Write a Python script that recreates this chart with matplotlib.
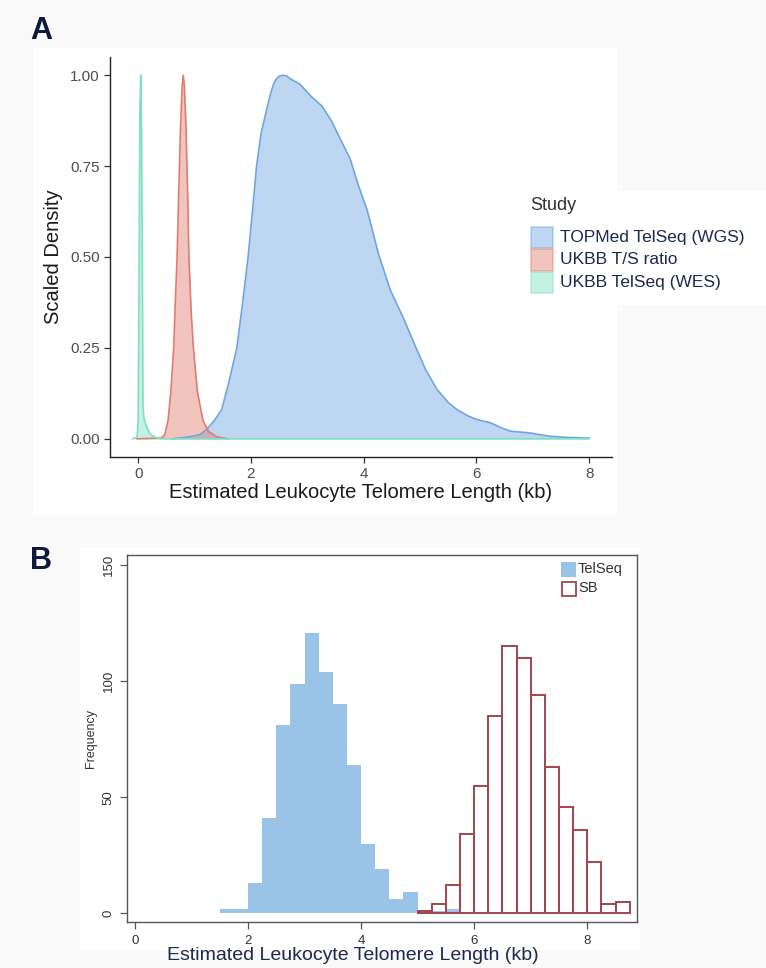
import matplotlib.pyplot as plt
from matplotlib.patches import Rectangle

plt.rcParams['font.family'] = ['Liberation Sans', 'DejaVu Sans']

# ---- panel A: scaled densities ----
topmed_x = [0.6, 0.9, 1.1, 1.21, 1.35, 1.48, 1.6, 1.75, 1.85, 1.95, 2.03, 2.10, 2.18, 2.28,
            2.35, 2.4, 2.45, 2.5, 2.57, 2.63, 2.7, 2.87, 3.08, 3.26, 3.43, 3.6, 3.76, 3.9, 4.06,
            4.26, 4.47, 4.71, 4.94, 5.1, 5.30, 5.5, 5.65, 5.85, 6.01, 6.25, 6.45, 6.6, 6.96,
            7.1, 7.31, 7.6, 8.0]
topmed_y = [0.0, 0.005, 0.012, 0.025, 0.05, 0.08, 0.15, 0.25, 0.37, 0.5, 0.63, 0.75, 0.84, 0.906,
            0.95, 0.975, 0.99, 0.997, 1.0, 0.998, 0.99, 0.975, 0.94, 0.915, 0.874, 0.82, 0.77, 0.70,
            0.63, 0.51, 0.41, 0.33, 0.246, 0.19, 0.136, 0.10, 0.081, 0.063, 0.053, 0.044, 0.03,
            0.021, 0.016, 0.012, 0.007, 0.004, 0.002]

ts_x = [-0.02, 0.4, 0.47, 0.53, 0.58, 0.63, 0.66, 0.69, 0.72, 0.75, 0.78, 0.80, 0.82, 0.85,
        0.88, 0.90, 0.94, 0.98, 1.05, 1.15, 1.25, 1.4, 1.6]
ts_y = [0.0, 0.002, 0.01, 0.05, 0.13, 0.25, 0.38, 0.5, 0.68, 0.85, 0.97, 1.0, 0.97, 0.85,
        0.66, 0.5, 0.35, 0.25, 0.13, 0.05, 0.02, 0.005, 0.0]

wes_x = [-0.1, -0.02, 0.0, 0.015, 0.03, 0.045, 0.06, 0.075, 0.085, 0.1, 0.12, 0.16, 0.2, 0.3, 0.4, 8.0]
wes_y = [0.0, 0.005, 0.05, 0.4, 0.9, 1.0, 0.85, 0.45, 0.1, 0.06, 0.045, 0.03, 0.015, 0.004, 0.0, 0.0]

studies = ['TOPMed TelSeq (WGS)', 'UKBB T/S ratio', 'UKBB TelSeq (WES)']
study_colors = ['#6fa6e0', '#e07d70', '#7fe0bf']

# ---- panel B: histogram counts, bins of 0.25 kb ----
telseq_edges = [1.5, 1.75, 2.0, 2.25, 2.5, 2.75, 3.0, 3.25, 3.5, 3.75, 4.0, 4.25, 4.5, 4.75,
                5.0, 5.25, 5.5, 5.75]
telseq_counts = [2, 2, 13, 41, 81, 99, 121, 104, 90, 64, 30, 19, 6, 9, 1, 1, 2]

sb_edges = [5.0, 5.25, 5.5, 5.75, 6.0, 6.25, 6.5, 6.75, 7.0, 7.25, 7.5, 7.75, 8.0, 8.25, 8.5, 8.75]
sb_counts = [1, 4, 12, 34, 55, 85, 115, 110, 94, 63, 46, 36, 22, 4, 5]

hist_labels = ['TelSeq', 'SB']
telseq_color = '#99c4e8'
sb_color = '#a3454d'

W, H = 766, 968
fig = plt.figure(figsize=(W / 100, H / 100), dpi=100, facecolor='#f9f9f9')


def px_rect(x0, y0, x1, y1, z=-10, **kw):
    r = Rectangle((x0 / W, 1 - y1 / H), (x1 - x0) / W, (y1 - y0) / H,
                  transform=fig.transFigure, zorder=z, **kw)
    fig.patches.append(r)
    return r


# white panel backgrounds like the screenshot
px_rect(33, 48, 617, 515, facecolor='white', edgecolor='none')
px_rect(617, 191, 766, 305, facecolor='white', edgecolor='none')
px_rect(80, 548, 640, 950, facecolor='white', edgecolor='none')

navy = '#1b2a4e'

# ================= Panel A =================
axA = fig.add_axes([109.7 / W, 1 - 457 / H, (612 - 109.7) / W, (457 - 57) / H])
axA.set_facecolor('none')
for xs, ys, c in zip([topmed_x, ts_x, wes_x], [topmed_y, ts_y, wes_y], study_colors):
    axA.fill_between(xs, ys, 0, color=c, alpha=0.45, linewidth=0)
    axA.plot(xs, ys, color=c, linewidth=1.2)

axA.set_xlim(-0.505, 8.405)
axA.set_ylim(-0.05, 1.05)
axA.set_xticks([0, 2, 4, 6, 8])
axA.set_yticks([0, 0.25, 0.5, 0.75, 1.0])
axA.set_yticklabels(['0.00', '0.25', '0.50', '0.75', '1.00'])
for s in ['top', 'right']:
    axA.spines[s].set_visible(False)
for s in ['left', 'bottom']:
    axA.spines[s].set_color('#222222')
    axA.spines[s].set_linewidth(1.0)
axA.tick_params(length=4, width=0.9, color='#333333', labelcolor='#4d4d4d', labelsize=11, pad=3)
axA.set_xlabel('Estimated Leukocyte Telomere Length (kb)', fontsize=14.5, color='#1a1a1a', labelpad=2)
axA.set_ylabel('Scaled Density', fontsize=14.5, color='#1a1a1a', labelpad=5)

# legend drawn by hand to match placement
fig.text(530 / W, 1 - 205 / H, 'Study', fontsize=13, color='#333333', va='center', ha='left')
key_tops = [226.7, 249, 271.7]
for top, lab, c in zip(key_tops, studies, study_colors):
    px_rect(531, top, 552.5, top + 21.5, z=1, facecolor=c, alpha=0.45, edgecolor=c, linewidth=1.2)
    fig.text(560 / W, 1 - (top + 11) / H, lab, fontsize=12.5, color=navy, va='center', ha='left')

fig.text(30 / W, 1 - 31 / H, 'A', fontsize=22, fontweight='bold', color='#0d1a3a', va='center')

# ================= Panel B =================
axB = fig.add_axes([127 / W, 1 - 922 / H, (637 - 127) / W, (922 - 555) / H])
axB.bar(telseq_edges[:-1], telseq_counts, width=0.25, align='edge', color=telseq_color,
        edgecolor='none')
axB.bar(sb_edges[:-1], sb_counts, width=0.25, align='edge', fill=False,
        edgecolor=sb_color, linewidth=1.4)
axB.set_xlim(-0.14, 8.88)
axB.set_ylim(-3.75, 154.4)
axB.set_xticks([0, 2, 4, 6, 8])
axB.set_yticks([0, 50, 100, 150])
for s in axB.spines.values():
    s.set_color('#555555')
    s.set_linewidth(1.0)
axB.tick_params(length=5, width=0.9, color='#555555', labelcolor='#333333', labelsize=9.5, pad=4)
for lab in axB.get_yticklabels():
    lab.set_rotation(90)
    lab.set_va('center')
axB.set_ylabel('Frequency', fontsize=9, color='#333333', labelpad=4)
fig.text(353 / W, 1 - 955 / H, 'Estimated Leukocyte Telomere Length (kb)', fontsize=14,
         color=navy, ha='center', va='center')

# hand-placed legend for panel B
px_rect(561, 562, 576, 577, z=1, facecolor=telseq_color, edgecolor='none')
px_rect(561.5, 581.5, 575.5, 595.5, z=1, facecolor='none', edgecolor=sb_color, linewidth=1.3)
fig.text(578 / W, 1 - 569.5 / H, hist_labels[0], fontsize=10.5, color='#333333', va='center')
fig.text(578 / W, 1 - 588.5 / H, hist_labels[1], fontsize=10.5, color='#333333', va='center')

fig.text(30 / W, 1 - 561 / H, 'B', fontsize=22, fontweight='bold', color='#0d1a3a', va='center')

fig.savefig('out.png', dpi=100, facecolor=fig.get_facecolor())
